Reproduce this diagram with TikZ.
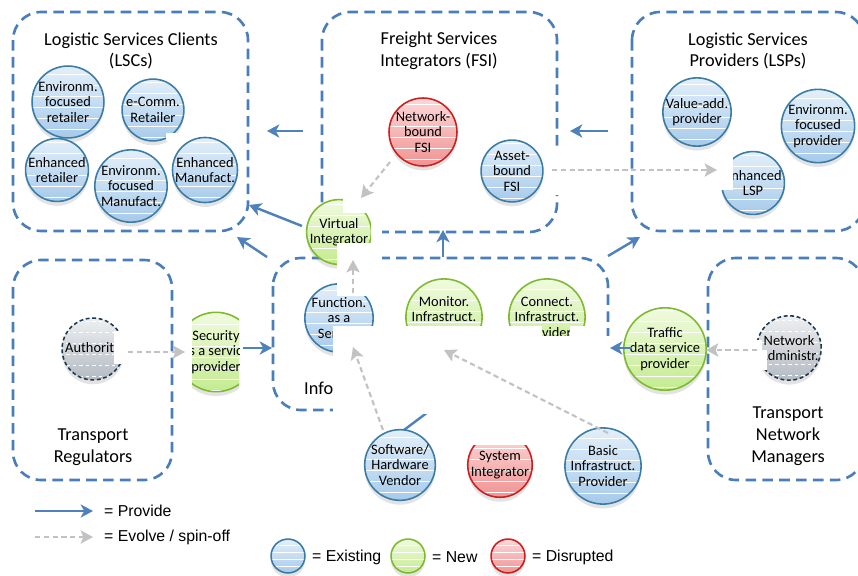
\documentclass[tikz,border=0pt]{standalone}
\usepackage{fontspec}
\setmainfont{Carlito}
\newfontfamily\legfont{Liberation Sans}
\usetikzlibrary{arrows.meta,shadows,calc}
\definecolor{boxblue}{HTML}{4A7EBB}
\definecolor{arrblue}{HTML}{4F81BD}
\definecolor{evgrey}{HTML}{C2C2C2}
\definecolor{exB}{HTML}{3A7CA5}\definecolor{exT}{HTML}{E3EFFA}\definecolor{exBo}{HTML}{A6CAEA}
\definecolor{nwB}{HTML}{7DBA2E}\definecolor{nwT}{HTML}{F0FBDF}\definecolor{nwBo}{HTML}{C4EB90}
\definecolor{drB}{HTML}{CC1F1F}\definecolor{drT}{HTML}{FCD8D8}\definecolor{drBo}{HTML}{F09393}
\definecolor{auB}{HTML}{1F3A4F}\definecolor{auT}{HTML}{EEF0F2}\definecolor{auBo}{HTML}{B3BAC2}
\tikzset{
  grp/.style={draw=boxblue, line width=1.5pt, dash pattern=on 6pt off 3.6pt, rounded corners=16pt},
  ttl/.style={align=center, font=\fontsize{10.4}{12.4}\selectfont},
  bub/.style n args={5}{circle, draw=#1, line width=0.9pt, top color=#2, bottom color=#3,
     minimum size=#4, inner sep=0pt, align=center, font=\fontsize{8.2}{8.8}\selectfont,
     drop shadow={opacity=0.22, shadow xshift=0pt, shadow yshift=-2.5pt},
     path picture={\foreach \k in {-4,...,4}{\draw[white, line width=0.7pt]
        ($(path picture bounding box.center)+(-40,\k*#5+#5/2)$) -- ++(80,0);}}},
  ex/.style={bub={exB}{exT}{exBo}{35.2pt}{11}},
  nw/.style={bub={nwB}{nwT}{nwBo}{35.2pt}{11}},
  dr/.style={bub={drB}{drT}{drBo}{35.2pt}{11}},
  au/.style={bub={auB}{auT}{auBo}{35.2pt}{11}, dash pattern=on 2.2pt off 1.5pt},
  exs/.style={bub={exB}{exT}{exBo}{19.3pt}{7}},
  nws/.style={bub={nwB}{nwT}{nwBo}{19.3pt}{7}},
  drs/.style={bub={drB}{drT}{drBo}{19.3pt}{7}},
  prov/.style={draw=arrblue, line width=1.4pt, -{Stealth[length=7pt, width=7.5pt, inset=2pt]}},
  evol/.style={draw=evgrey, line width=1.2pt, dash pattern=on 3pt off 2pt, -{Stealth[length=7pt, width=7.5pt, inset=1.5pt]}},
  leg/.style={anchor=west, font=\legfont\fontsize{9}{11}\selectfont},
  mask/.style={fill=white}
}
\begin{document}
\begin{tikzpicture}[x=0.02cm, y=-0.02cm]
\useasboundingbox (0,0) rectangle (858,575);
% groups
\draw[grp] (13,12) rectangle (248,231);
\draw[grp] (322,12) rectangle (557,232);
\draw[grp] (632,12) rectangle (864,231);
\draw[grp] (13,260) rectangle (172,480);
\draw[grp] (273,258) rectangle (608,410);
\draw[grp] (708,258) rectangle (864,480);
\node[ttl] (tlsc) at (131,51) {Logistic Services Clients\\(LSCs)};
\node[ttl] (tfsi) at (439,51) {Freight Services\\Integrators (FSI)};
\node[ttl] (tlsp) at (748,51) {Logistic Services\\Providers (LSPs)};
\node[ttl] (ttr) at (93,447) {Transport\\Regulators};
\node[ttl] (ttnm) at (788,436) {Transport\\Network\\Managers};
\node[ttl, anchor=west] (tinfo) at (298,388) {Info};
% partially hidden provide arrow from vendor
\coordinate (swtop) at (400,433);
\coordinate (swend) at (452,394);
\draw[draw=arrblue, line width=1.4pt] (swtop) -- (swend);
% circles
\node[ex] (envret) at (68,102) {Environm.\\focused\\retailer};
\node[ex] (ecomm) at (153,110) {e-Comm.\\Retailer};
\node[ex] (enhret) at (57,170) {Enhanced\\retailer};
\node[ex] (envman) at (131,186) {Environm.\\focused\\Manufact.};
\node[ex] (enhman) at (205,170) {Enhanced\\Manufact.};
\node[dr] (netfsi) at (423,132) {Network-\\bound\\FSI};
\node[ex] (asset) at (512,171) {Asset-\\bound\\FSI};
\node[ex] (valadd) at (697,112) {Value-add.\\provider};
\node[ex] (envprov) at (818,126) {Environm.\\focused\\provider};
\node[ex] (enhlsp) at (753,183) {Enhanced\\LSP};
\node[nw] (virt) at (339,232) {Virtual\\Integrator};
\node[ex] (func) at (339,318) {Function.\\as a\\Service};
\node[nw] (monit) at (444,317) {Monitor.\\Infrastruct.\\Provider};
\node[nw] (connect) at (547,317) {Connect.\\Infrastruct.\\Provider};
\node[au] (auth) at (93,349) {Authority};
\begin{scope}
\clip (192,300) rectangle (239,400);
\node[nw] (sec) at (216,352) {Security\\as a service\\provider};
\end{scope}
\node[nw] (traffic) at (665,349) {Traffic\\data service\\provider};
\node[au] (netadm) at (789,348) {Network\\Administr.};
\node[ex] (sw) at (400,465) {Software/\\Hardware\\Vendor};
\node[dr] (sysint) at (500,465) {System\\Integrator};
\node[ex] (basic) at (603,466) {Basic\\Infrastruct.\\Provider};
% white masks as printed
\fill[mask] (333,326) rectangle (542,414);
\fill[mask] (542,336) rectangle (611,414);
\fill[mask] (570,326) rectangle (604,336);
\fill[mask] (337,243) rectangle (382,296);
\fill[mask] (343,193) rectangle (382,213);
\fill[mask] (371,213) rectangle (382,243);
\fill[mask] (712,148) rectangle (733,190);
\fill[mask] (548,148) rectangle (562,195);
\fill[mask] (114,331) rectangle (128,364);
\fill[mask] (754,340) rectangle (762,350);
\fill[mask] (754,350) rectangle (767,370);
\fill[mask] (166,133) rectangle (182,141);
\fill[mask] (462,425) rectangle (538,445);
% provide arrows
\coordinate (p1a) at (303,131); \coordinate (p1b) at (267,131);
\coordinate (p2a) at (608,131); \coordinate (p2b) at (570,131);
\coordinate (p3a) at (302,226); \coordinate (p3b) at (249,205);
\coordinate (p4a) at (267,257); \coordinate (p4b) at (237,237);
\coordinate (p5a) at (443,257); \coordinate (p5b) at (443,230);
\coordinate (p6a) at (608,256); \coordinate (p6b) at (640,237);
\coordinate (p7a) at (243,348); \coordinate (p7b) at (272,348);
\coordinate (p8a) at (632,348); \coordinate (p8b) at (610,348);
\draw[prov] (p1a) -- (p1b);
\draw[prov] (p2a) -- (p2b);
\draw[prov] (p3a) -- (p3b);
\draw[prov] (p4a) -- (p4b);
\draw[prov] (p5a) -- (p5b);
\draw[prov] (p6a) -- (p6b);
\draw[prov] (p7a) -- (p7b);
\draw[prov] (p8a) -- (p8b);
% evolve arrows
\coordinate (e1a) at (390,162); \coordinate (e1b) at (361,198);
\coordinate (e2a) at (552,170); \coordinate (e2b) at (717,170);
\coordinate (e3a) at (353,293); \coordinate (e3b) at (353,260);
\coordinate (e4a) at (383,430); \coordinate (e4b) at (353,347);
\coordinate (e5a) at (608,433); \coordinate (e5b) at (444,350);
\coordinate (e6a) at (128,352); \coordinate (e6b) at (185,352);
\coordinate (e7a) at (757,350); \coordinate (e7b) at (706,350);
\draw[evol] (e1a) -- (e1b);
\draw[evol] (e2a) -- (e2b);
\draw[evol] (e3a) -- (e3b);
\draw[evol] (e4a) -- (e4b);
\draw[evol] (e5a) -- (e5b);
\draw[evol] (e6a) -- (e6b);
\draw[evol] (e7a) -- (e7b);
% legend
\coordinate (l1a) at (35,511); \coordinate (l1b) at (93,511);
\coordinate (l2a) at (35,537); \coordinate (l2b) at (93,537);
\draw[prov] (l1a) -- (l1b);
\draw[evol] (l2a) -- (l2b);
\node[leg] (lprov) at (98,511) {= Provide};
\node[leg] (levol) at (98,537) {= Evolve / spin-off};
\node[exs] (lex) at (288,556) {};
\node[nws] (lnw) at (408,556) {};
\node[drs] (ldr) at (508,556) {};
\node[leg] (lext) at (306,557) {= Existing};
\node[leg] (lnwt) at (426,557) {= New};
\node[leg] (ldrt) at (526,557) {= Disrupted};
\end{tikzpicture}
\end{document}
